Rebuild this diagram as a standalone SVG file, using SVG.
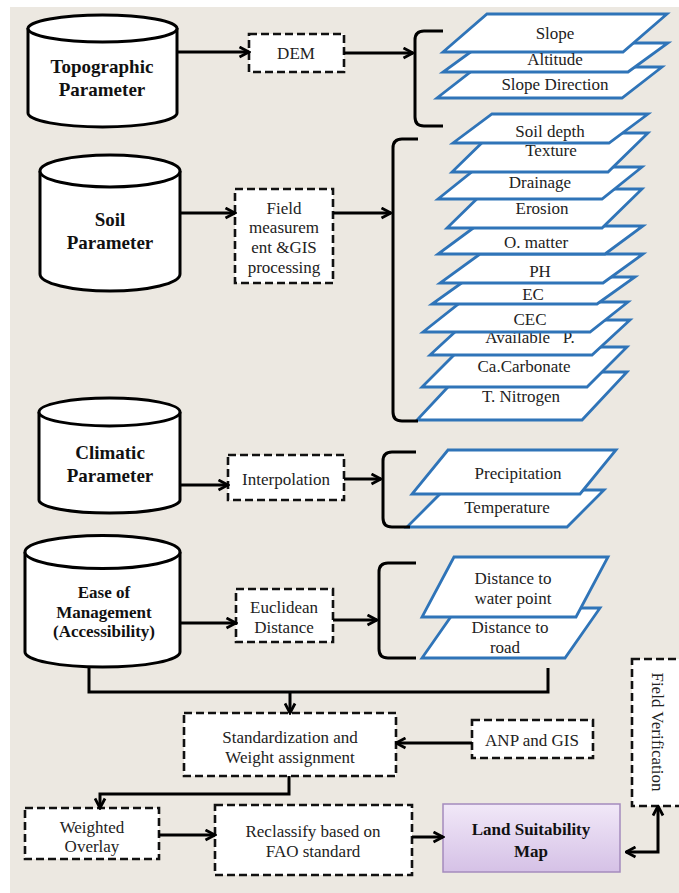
<svg xmlns="http://www.w3.org/2000/svg" width="679" height="893" viewBox="0 0 679 893">
<style>
.bg{fill:#ece8e1}
.cyl{fill:#fff;stroke:#000;stroke-width:3}
.dbox{fill:#fff;stroke:#111;stroke-width:2.6;stroke-dasharray:8 4}
.lay{fill:#fff;stroke:#2f74b8;stroke-width:2.8;stroke-linejoin:miter}
.br{fill:none;stroke:#000;stroke-width:3}
.con{fill:none;stroke:#000;stroke-width:3}
text{font-family:'Liberation Serif','DejaVu Serif',serif}
.t{font-size:17px;fill:#222;text-anchor:middle}
.tb{font-size:19px;font-weight:bold;fill:#111;text-anchor:middle}
.tbs{font-size:17px;font-weight:bold;fill:#111;text-anchor:middle}
</style>
<defs>
<marker id="ah" markerUnits="userSpaceOnUse" markerWidth="13" markerHeight="13" viewBox="0 0 13 13" refX="11.5" refY="6.5" orient="auto-start-reverse">
<path d="M2,1.5 L11.5,6.5 L2,11.5" fill="none" stroke="#000" stroke-width="2.8"/>
</marker>
<linearGradient id="lg" x1="0" y1="0" x2="0" y2="1">
<stop offset="0" stop-color="#f1e8f8"/>
<stop offset="1" stop-color="#d5c1e6"/>
</linearGradient>
</defs>
<rect width="679" height="893" fill="#fff"/>
<rect class="bg" x="10" y="7" width="669" height="886"/>

<!-- Cylinders -->
<g id="topographic">
<path class="cyl" d="M28,28 L28,113 A74.5,14 0 0 0 177,113 L177,28"/>
<ellipse class="cyl" cx="102.5" cy="28.5" rx="74.5" ry="13.5"/>
<text class="tb" x="102" y="73">Topographic</text>
<text class="tb" x="102" y="96">Parameter</text>
</g>
<g id="soil">
<path class="cyl" d="M40,171 L40,274 A70,17 0 0 0 180,274 L180,171"/>
<ellipse class="cyl" cx="110" cy="171" rx="70" ry="16"/>
<text class="tb" x="110" y="226">Soil</text>
<text class="tb" x="110" y="249">Parameter</text>
</g>
<g id="climatic">
<path class="cyl" d="M39,412 L39,500 A70.5,13 0 0 0 180,500 L180,412"/>
<ellipse class="cyl" cx="109.5" cy="412" rx="70.5" ry="14"/>
<text class="tb" x="110" y="459">Climatic</text>
<text class="tb" x="110" y="482">Parameter</text>
</g>
<g id="ease">
<path class="cyl" d="M25,552 L25,652 A77.5,15 0 0 0 180,652 L180,552"/>
<ellipse class="cyl" cx="102.5" cy="552" rx="77.5" ry="16.5"/>
<text class="tbs" x="104" y="598">Ease of</text>
<text class="tbs" x="104" y="618">Management</text>
<text class="tbs" x="104" y="637">(Accessibility)</text>
</g>

<!-- Process boxes -->
<g id="dem"><rect class="dbox" x="249" y="34" width="95" height="38"/><text class="t" x="296" y="59">DEM</text></g>
<g id="field"><rect class="dbox" x="235" y="189" width="98" height="94"/>
<text class="t" x="284" y="214">Field</text><text class="t" x="284" y="233">measurem</text><text class="t" x="284" y="253">ent &amp;GIS</text><text class="t" x="284" y="273">processing</text></g>
<g id="interpolation"><rect class="dbox" x="228" y="455" width="116" height="45"/><text class="t" x="286" y="485">Interpolation</text></g>
<g id="euclidean"><rect class="dbox" x="236" y="589" width="97" height="53"/><text class="t" x="284" y="613">Euclidean</text><text class="t" x="284" y="633">Distance</text></g>
<g id="standardization"><rect class="dbox" x="184" y="713" width="212" height="63"/><text class="t" x="290" y="743">Standardization and</text><text class="t" x="290" y="763">Weight assignment</text></g>
<g id="anp"><rect class="dbox" x="472" y="720" width="121" height="38"/><text class="t" x="532" y="746">ANP and GIS</text></g>
<g id="weighted"><rect class="dbox" x="25" y="808" width="134" height="51"/><text class="t" x="92" y="833">Weighted</text><text class="t" x="92" y="852">Overlay</text></g>
<g id="reclassify"><rect class="dbox" x="215" y="805" width="197" height="70"/><text class="t" x="313" y="837">Reclassify based on</text><text class="t" x="313" y="857">FAO standard</text></g>
<g id="fieldverification"><rect class="dbox" x="632" y="659" width="60" height="147"/><text class="t" transform="translate(657,732) rotate(90)" x="0" y="5.5">Field Verification</text></g>
<g id="landsuitability"><rect x="443" y="804" width="177" height="68" fill="url(#lg)" stroke="#a48bbd" stroke-width="1.5"/><text class="tbs" x="531" y="835">Land Suitability</text><text class="tbs" x="531" y="857">Map</text></g>

<!-- Topographic layers (bottom first) -->
<g id="layers-topo">
<polygon class="lay" points="477,67 662,67 622,98 437,98"/>
<polygon class="lay" points="483,43 668,43 628,72 443,72"/>
<polygon class="lay" points="487,14 667,14 623,52 443,52"/>
<text class="t" x="555" y="39">Slope</text>
<text class="t" x="555" y="65">Altitude</text>
<text class="t" x="555" y="90">Slope Direction</text>
</g>

<!-- Soil layers (bottom first) -->
<g id="layers-soil">
<polygon class="lay" points="462,372 627,372 582,420 417,420"/>
<text class="t" x="521" y="402">T. Nitrogen</text>
<polygon class="lay" points="462,347 627,347 587,387 422,387"/>
<text class="t" x="524" y="372">Ca.Carbonate</text>
<polygon class="lay" points="468,320 630,320 592,355 430,355"/>
<text class="t" x="530" y="343" xml:space="preserve">Available   P.</text>
<polygon class="lay" points="461,302 628,302 590,332 423,332"/>
<text class="t" x="530" y="325">CEC</text>
<polygon class="lay" points="470,277 635,277 597,304 432,304"/>
<text class="t" x="533" y="300">EC</text>
<polygon class="lay" points="480,254 643,254 603,283 440,283"/>
<text class="t" x="540" y="277">PH</text>
<polygon class="lay" points="476,226 643,226 605,254 438,254"/>
<text class="t" x="536" y="248">O. matter</text>
<polygon class="lay" points="487,189 642,189 602,228 447,228"/>
<text class="t" x="542" y="214">Erosion</text>
<polygon class="lay" points="478,167 642,167 602,199 438,199"/>
<text class="t" x="540" y="188">Drainage</text>
<polygon class="lay" points="492,133 648,133 608,172 452,172"/>
<text class="t" x="551" y="156">Texture</text>
<polygon class="lay" points="492,114 648,114 609,143 453,143"/>
<text class="t" x="550" y="137">Soil depth</text>
</g>

<!-- Climatic layers -->
<g id="layers-climatic">
<polygon class="lay" points="444,490 604,490 567,527 407,527"/>
<text class="t" x="507" y="513">Temperature</text>
<polygon class="lay" points="448,450 616,450 580,494 412,494"/>
<text class="t" x="518" y="479">Precipitation</text>
</g>

<!-- Ease layers -->
<g id="layers-ease">
<polygon class="lay" points="457,608 600,608 565,658 422,658"/>
<text class="t" x="510" y="633">Distance to</text>
<text class="t" x="505" y="653">road</text>
<polygon class="lay" points="454,557 608,557 576,617 422,617"/>
<text class="t" x="513" y="584">Distance to</text>
<text class="t" x="513" y="604">water point</text>
</g>

<!-- Connectors -->
<g id="connectors">
<path class="br" d="M443,31 L424,31 Q415,31 415,40 L415,117 Q415,126 424,126 L443,126"/>
<path class="br" d="M418,139 L402,139 Q393,139 393,148 L393,412 Q393,421 402,421 L418,421"/>
<path class="br" d="M416,452 L392,452 Q383,452 383,461 L383,518 Q383,527 392,527 L410,527"/>
<path class="br" d="M416,563 L388,563 Q379,563 379,572 L379,649 Q379,658 388,658 L416,658"/>
<path class="con" marker-end="url(#ah)" d="M177,52 L249,52"/>
<path class="con" marker-end="url(#ah)" d="M344,53 L413,53"/>
<path class="con" marker-end="url(#ah)" d="M180,213 L235,213"/>
<path class="con" marker-end="url(#ah)" d="M333,213 L391,213"/>
<path class="con" marker-end="url(#ah)" d="M180,485 L228,485"/>
<path class="con" marker-end="url(#ah)" d="M344,479 L381,479"/>
<path class="con" marker-end="url(#ah)" d="M180,623 L236,623"/>
<path class="con" marker-end="url(#ah)" d="M333,620 L377,620"/>
<path class="con" d="M89,667 L89,692 L548,692 L548,668"/>
<path class="con" stroke-width="2.5" marker-end="url(#ah)" d="M290,692 L290,713"/>
<path class="con" stroke-width="2.5" marker-end="url(#ah)" d="M472,743 L396,743"/>
<path class="con" marker-end="url(#ah)" d="M289,776 L289,794 L100,794 L100,808"/>
<path class="con" marker-end="url(#ah)" d="M159,835 L215,835"/>
<path class="con" marker-end="url(#ah)" d="M412,837 L443,837"/>
<path class="con" marker-start="url(#ah)" marker-end="url(#ah)" d="M626,852 L658,852 L658,806"/>
</g>
</svg>
